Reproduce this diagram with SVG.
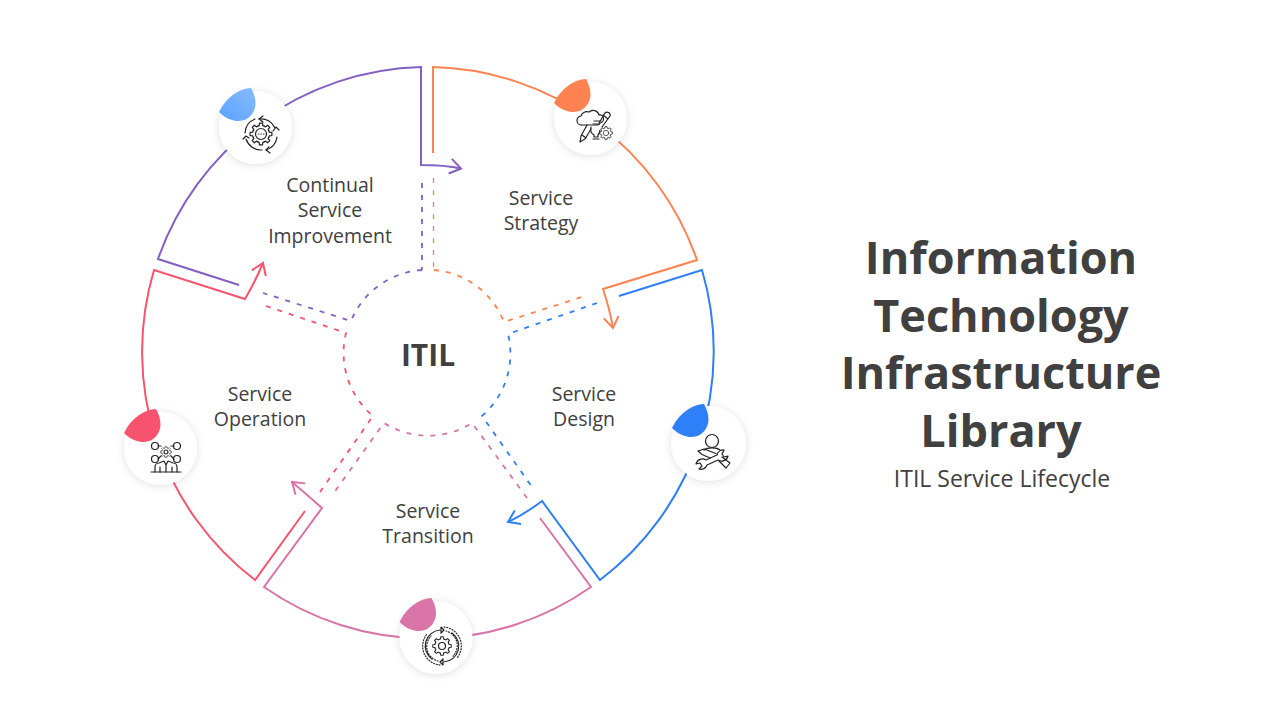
<svg xmlns="http://www.w3.org/2000/svg" width="1280" height="720" viewBox="0 0 1280 720">
<style>
text{font-family:"Open Sans","Noto Sans","Liberation Sans",sans-serif;fill:#404040;text-anchor:middle}
.lab{font-size:19.500px}
.ttl{font-size:45px;font-weight:700}
.sub{font-size:23px}
.itil{font-size:30px;font-weight:700}
.s{fill:none;stroke-width:2;stroke-linejoin:miter}
.d{fill:none;stroke-width:1.800;stroke-dasharray:5 7}
.t{stroke-width:1.300}
.purple{stroke:#8460c4}.orange{stroke:#ff8352}.blue{stroke:#2f7ff8}.pink{stroke:#d974a8}.red{stroke:#f7536e}
.disc{fill:#fff;filter:url(#sh)}
.i{fill:none;stroke:#222;stroke-width:1.200;stroke-linecap:round;stroke-linejoin:round}
.dots{stroke-dasharray:1 1.800}
</style>
<defs>
<filter id="sh" x="-30%" y="-30%" width="160%" height="160%"><feDropShadow dx="0" dy="1" stdDeviation="4" flood-color="#000" flood-opacity="0.13"/></filter>
<linearGradient id="lb" x1="0" y1="1" x2="1" y2="0"><stop offset="0" stop-color="#5aa2ff"/><stop offset="1" stop-color="#86bcff"/></linearGradient>
<path id="leaf" d="M-4.500,-39.500C-16,-39 -29,-31 -36.500,-15.500C-30,-9 -23,-6.500 -17,-6.500C-6,-6.500 0,-16 0,-24C0,-30 -2,-35 -4.500,-39.500Z"/>
<path id="tooth" d="M-3.250,-7.850L-1.770,-8.310L-1.530,-10.890L1.530,-10.890L1.770,-8.310L3.250,-7.850"/>
<g id="gear">
<use href="#tooth"/><use href="#tooth" transform="rotate(45)"/><use href="#tooth" transform="rotate(90)"/><use href="#tooth" transform="rotate(135)"/><use href="#tooth" transform="rotate(180)"/><use href="#tooth" transform="rotate(225)"/><use href="#tooth" transform="rotate(270)"/><use href="#tooth" transform="rotate(315)"/>
</g>
<marker id="aP" markerUnits="userSpaceOnUse" markerWidth="24" markerHeight="24" refX="13" refY="12" orient="auto"><path d="M2,4.500L13,12L2,19.500" fill="none" stroke="#8460c4" stroke-width="2"/></marker>
<marker id="aO" markerUnits="userSpaceOnUse" markerWidth="24" markerHeight="24" refX="13" refY="12" orient="auto"><path d="M2,4.500L13,12L2,19.500" fill="none" stroke="#ff8352" stroke-width="2"/></marker>
<marker id="aB" markerUnits="userSpaceOnUse" markerWidth="24" markerHeight="24" refX="13" refY="12" orient="auto"><path d="M2,4.500L13,12L2,19.500" fill="none" stroke="#2f7ff8" stroke-width="2"/></marker>
<marker id="aK" markerUnits="userSpaceOnUse" markerWidth="24" markerHeight="24" refX="13" refY="12" orient="auto"><path d="M2,4.500L13,12L2,19.500" fill="none" stroke="#d974a8" stroke-width="2"/></marker>
<marker id="aR" markerUnits="userSpaceOnUse" markerWidth="24" markerHeight="24" refX="13" refY="12" orient="auto"><path d="M2,4.500L13,12L2,19.500" fill="none" stroke="#f7536e" stroke-width="2"/></marker>
</defs>
<rect width="1280" height="720" fill="#fff"/>
<g id="connectors">
<path class="s purple" marker-end="url(#aP)" d="M239,285L158,259A287,287 0 0 1 421,67V165Q445,165 461,168.500"/>
<path class="s orange" marker-end="url(#aO)" d="M433,153V67A287,287 0 0 1 697,260L603,289Q610,310 613,328"/>
<path class="s blue" marker-end="url(#aB)" d="M619,296L702,270A287,287 0 0 1 600,580L542,501Q525,514 508,522"/>
<path class="s pink" marker-end="url(#aK)" d="M540,518L591,587A285,285 0 0 1 264,587L322,508Q305,493 292,482"/>
<path class="s red" marker-end="url(#aR)" d="M305,511L255,580A287,287 0 0 1 154,270L245,299Q256,280 263,263"/>
<path class="d purple" d="M422,183V270M422,270A82.500,82.500 0 0 0 351,321L263,293"/>
<path class="d orange t" d="M433.500,178V270"/>
<path class="d orange" d="M434,270A82.500,82.500 0 0 1 504,322L588,295"/>
<path class="d blue" d="M597,303L508,334A82.500,82.500 0 0 1 482,416L532,487"/>
<path class="d pink" d="M527,498L472,423A82.500,82.500 0 0 1 384,423L333,494"/>
<path class="d red" d="M320,492L373,416A82.500,82.500 0 0 1 346,333L263,305"/>
</g>
<g id="node-improvement">
<circle class="disc" cx="255.500" cy="127.500" r="36.500"/>
<use href="#leaf" x="255.500" y="127.500" fill="url(#lb)"/>
<g class="i" transform="translate(261,134)">
<use href="#gear"/><circle r="5.500"/>
<path d="M-2.500,0h.5M0,0h.5M2.500,0h.5"/>
<path d="M-16,-1A16,16 0 0 1 -6,-15M-2,-15A15,15 0 0 1 14,-6M16,3A16,16 0 0 1 5,16M1,16A16,16 0 0 1 -15,5"/>
<path d="M2,-18l-4,3l4,3M12,-3l3,-4l3,3M8,13l-3,3l4,3M-12,4l-3,-2l-3,3"/>
</g>
</g>
<g id="node-strategy">
<circle class="disc" cx="590.500" cy="118.500" r="36.500"/>
<use href="#leaf" x="590.500" y="118.500" fill="#ff8352"/>
<g class="i" transform="translate(594,126)">
<path d="M-12,-1a4.500,4.500 0 0 1 -1,-9a6,6 0 0 1 8,-4a6,6 0 0 1 10,3a4,4 0 0 1 1,8a3,3 0 0 1 -3,2z"/>
<path d="M5,-3L11,-13a3,3 0 0 1 5,3L8,1M9,-11l5,4"/>
<path d="M-7,-1L-13,10L-14,16L-9,13L-3,3M-12,9l4,3"/>
<path d="M-3,1a7,7 0 0 0 3,8v2h4v-2a7,7 0 0 0 2,-5M-1,13h6M0,-5h7M-1,-2h5"/>
<g transform="translate(12,7) scale(.6)"><use href="#gear"/><circle r="4.500"/></g>
</g>
</g>
<g id="node-design">
<circle class="disc" cx="708.500" cy="443.500" r="37.500"/>
<use href="#leaf" x="708.500" y="443.500" fill="#2f7ff8"/>
<g class="i" transform="translate(712,441)">
<circle r="6.500"/>
<path d="M-8,9a9,4 0 0 1 16,0"/>
<path d="M12,9A6.500,6.500 0 0 0 5,14L-6,19A6.500,6.500 0 0 0 -16,23L-12,22L-10,25L-13,28A6.500,6.500 0 0 0 -5,24L6,19A6.500,6.500 0 0 0 16,15L12,16L10,13Z"/>
<path d="M-14,10L-8,8L4,12.500M-14,10L-10,13.500L-2,17M7,20L14,27L18,22L10,16"/>
</g>
</g>
<g id="node-transition">
<circle class="disc" cx="436" cy="637.500" r="36.500"/>
<use href="#leaf" x="436" y="637.500" fill="#d974a8"/>
<g class="i" transform="translate(442,646)">
<g transform="scale(.85)"><use href="#gear"/></g><circle r="3.500"/>
<path d="M-2,-16A16,16 0 0 0 -10,13M2,16A16,16 0 0 0 10,-13"/>
<path d="M-1,-19l3,3l-3,3z M1,19l-3,-3l3,-3z"/>
<path class="dots" d="M2,-19A19,19 0 0 1 15,12M-2,19A19,19 0 0 1 -15,-12M4,-15A15,15 0 0 1 11,10M-4,15A15,15 0 0 1 -11,-10"/>
</g>
</g>
<g id="node-operation">
<circle class="disc" cx="160.500" cy="448.500" r="36.500"/>
<use href="#leaf" x="160.500" y="448.500" fill="#f7536e"/>
<g class="i" transform="translate(166,452)">
<circle cx="-11" cy="-6" r="3.500"/><circle cx="11" cy="-6" r="3.500"/><circle cx="-11" cy="7" r="3.500"/><circle cx="11" cy="7" r="3.500"/>
<g transform="scale(.5)"><use href="#gear"/></g><circle r="2"/>
<path d="M-8,-6H-5M8,-6H5M-8,7L-5,4M8,7L5,4M-15,20H15"/>
<path d="M-11,20V15a4,4 0 0 1 4,-4L-2,9L0,13L2,9L7,11a4,4 0 0 1 4,4V20M0,13V20M-6,15V20M6,15V20"/>
</g>
</g>
<g id="hub"><text class="itil" x="428" y="366">ITIL</text></g>
<g id="labels">
<text class="lab" x="330" y="192">Continual</text><text class="lab" x="330" y="217">Service</text><text class="lab" x="330" y="243">Improvement</text>
<text class="lab" x="541" y="205">Service</text><text class="lab" x="541" y="230">Strategy</text>
<text class="lab" x="584" y="401">Service</text><text class="lab" x="584" y="426">Design</text>
<text class="lab" x="428" y="518">Service</text><text class="lab" x="428" y="543">Transition</text>
<text class="lab" x="260" y="401">Service</text><text class="lab" x="260" y="426">Operation</text>
</g>
<g id="title">
<text class="ttl" x="1001" y="274">Information</text>
<text class="ttl" x="1001" y="332">Technology</text>
<text class="ttl" x="1001" y="389">Infrastructure</text>
<text class="ttl" x="1001" y="447">Library</text>
<text class="sub" x="1002" y="487">ITIL Service Lifecycle</text>
</g>
</svg>
